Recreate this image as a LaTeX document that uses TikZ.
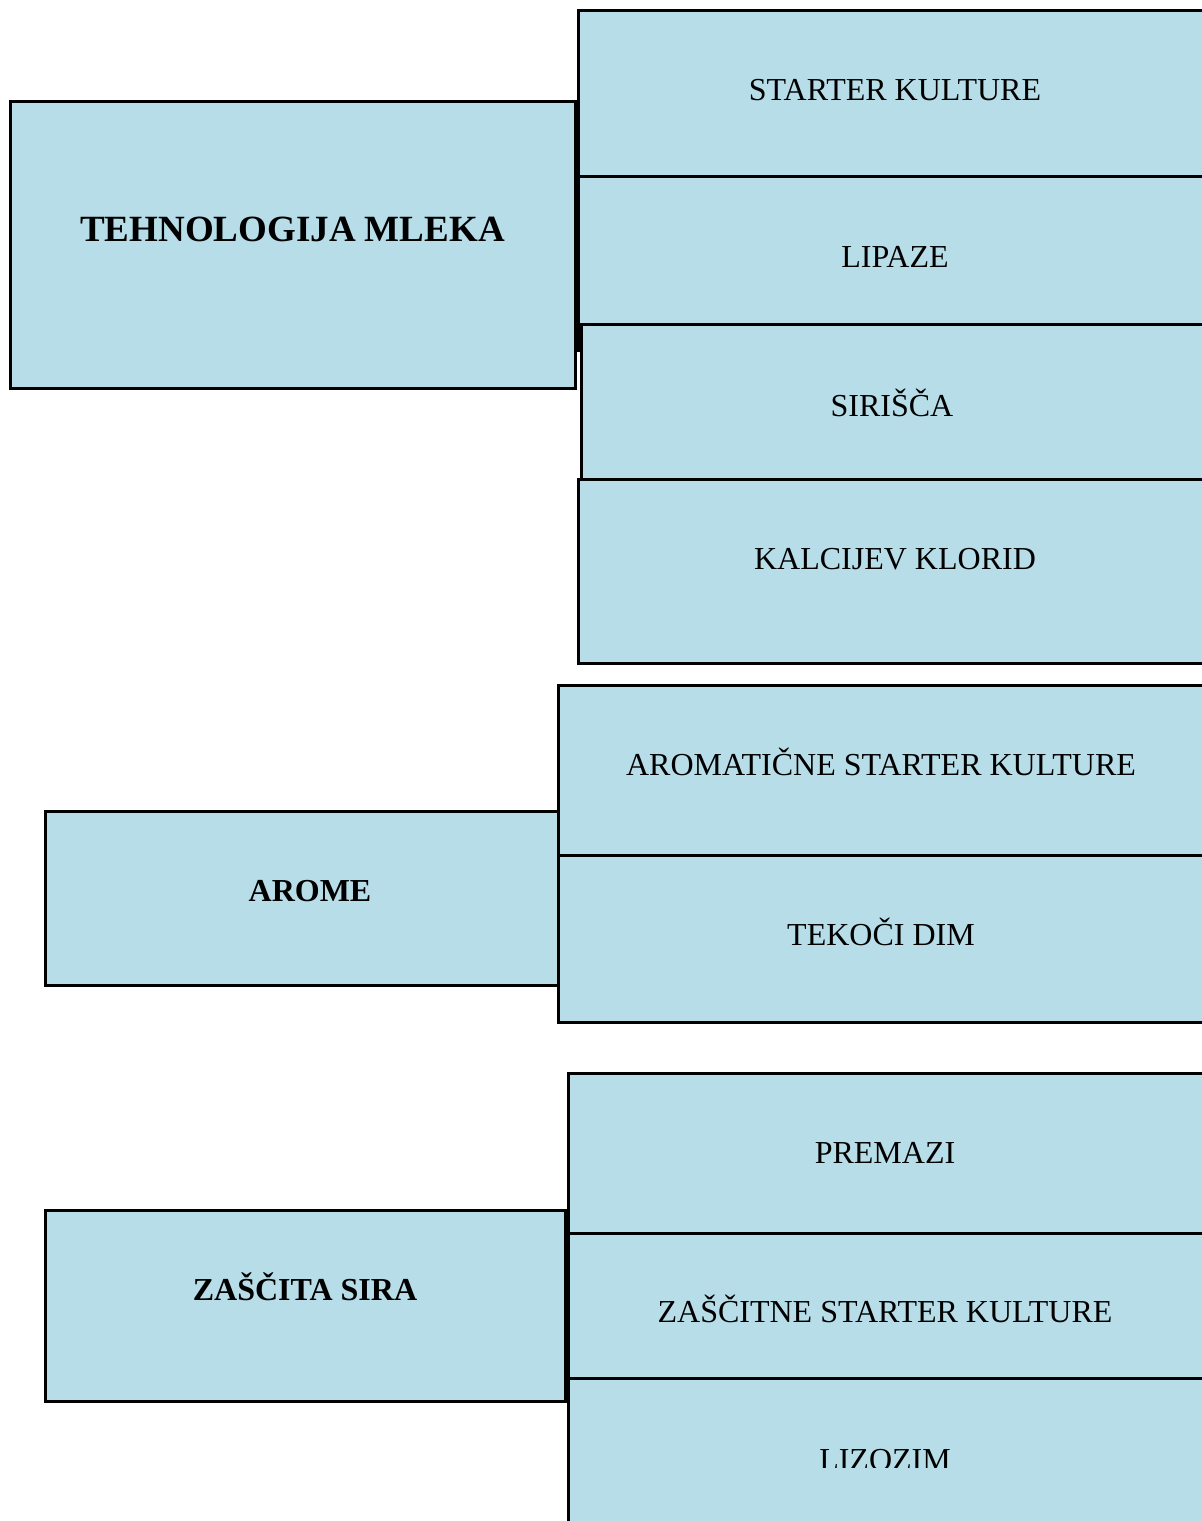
\documentclass[tikz,border=0pt]{standalone}
\usepackage{fontspec}
\setmainfont{Liberation Serif}
\usepackage{tikz}
\usetikzlibrary{positioning}

\definecolor{boxblue}{HTML}{B7DDE8}

\begin{document}
\begin{tikzpicture}[x=0.5pt,y=-0.5pt,
  box/.style={draw,line width=1.5pt,fill=boxblue,rectangle,anchor=north west,inner sep=0pt,outer sep=0pt},
  lbl/.style={anchor=base,inner sep=0pt,font=\fontsize{16}{19}\selectfont},
  ttl/.style={anchor=base,inner sep=0pt,font=\fontsize{16}{19}\selectfont\bfseries}]
  \useasboundingbox (0,0) rectangle (1202,1521);

  % first group
  \node[box,minimum width=282.5pt,minimum height=143.25pt] (tehno) at (10.5,101.5) {};
  \node[box,minimum width=312.5pt,minimum height=83pt] (starter) at (578.5,10.5) {};
  \node[box,minimum width=312.5pt,minimum height=87pt] (lipaze) at (578.5,176.5) {};
  \node[box,minimum width=311pt,minimum height=77.5pt] (sirisca) at (581.5,324.5) {};
  \node[box,minimum width=312.5pt,minimum height=91.75pt] (kalcij) at (578.5,479.5) {};

  \node[ttl,font=\fontsize{18.5}{22}\selectfont\bfseries] (tehnoT) at (292.5,241) {TEHNOLOGIJA MLEKA};
  \node[lbl] (starterT) at (895,100) {STARTER KULTURE};
  \node[lbl] (lipazeT) at (895,267) {LIPAZE};
  \node[lbl] (siriscaT) at (892,416.5) {SIRIŠČA};
  \node[lbl] (kalcijT) at (895,569.5) {KALCIJEV KLORID};

  % second group
  \node[box,minimum width=256.5pt,minimum height=87pt] (arome) at (45.5,811.5) {};
  \node[box,minimum width=322.5pt,minimum height=85pt] (aromat) at (558.5,685.5) {};
  \node[box,minimum width=322.5pt,minimum height=83.5pt] (dim) at (558.5,855.5) {};

  \node[ttl] (aromeT) at (310,901.5) {AROME};
  \node[lbl] (aromatT) at (881,775.5) {AROMATIČNE STARTER KULTURE};
  \node[lbl] (dimT) at (881,945.5) {TEKOČI DIM};

  % third group
  \node[box,minimum width=260pt,minimum height=95.5pt] (zascita) at (45.5,1210.5) {};
  \node[box,minimum width=317.5pt,minimum height=79.75pt] (premazi) at (568.5,1073.5) {};
  \node[box,minimum width=317.5pt,minimum height=72.75pt] (zascitne) at (568.5,1233) {};
  \node[box,minimum width=317.5pt,minimum height=75.75pt] (lizozim) at (568.5,1378.5) {};

  \node[ttl] (zascitaT) at (305,1300.5) {ZAŠČITA SIRA};
  \node[lbl] (premaziT) at (885,1163.5) {PREMAZI};
  \node[lbl] (zascitneT) at (885,1322.5) {ZAŠČITNE STARTER KULTURE};
  \begin{scope}
    \clip (0,0) rectangle (1202,1467);
    \node[lbl] (lizozimT) at (885,1470) {LIZOZIM};
  \end{scope}
\end{tikzpicture}
\end{document}
